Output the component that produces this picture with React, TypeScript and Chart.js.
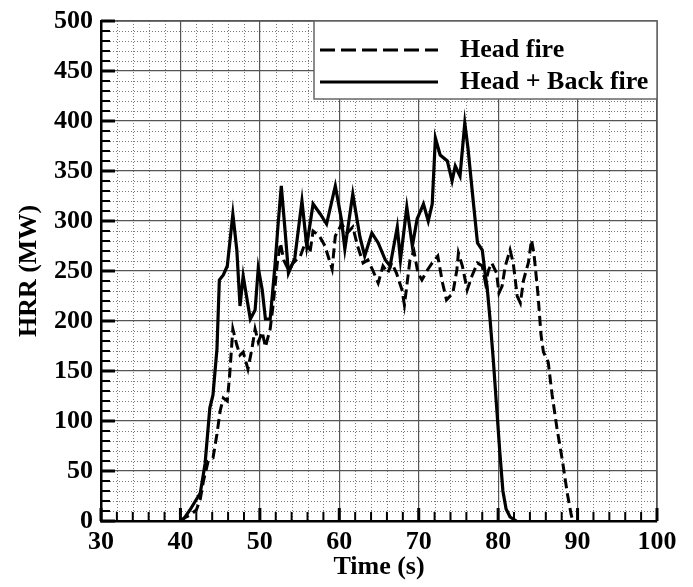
import React, { useEffect, useRef } from "react";
import { Chart, registerables } from "chart.js";
Chart.register(...registerables);

const FONT = '"Liberation Serif", "Times New Roman", serif';

const xMin = 30;
const xMax = 100;
const xStep = 10;
const yMin = 0;
const yMax = 500;
const yStep = 50;

const seriesLabels = ["Head fire", "Head + Back fire"];
const axisTitles = { x: "Time (s)", y: "HRR (MW)" };

// Head fire (dashed)
const timeHead = [
  40.0, 40.5, 41.2, 42.0, 42.5, 42.9, 43.5, 44.1, 44.6, 45.0, 45.4, 45.9, 46.2, 46.6, 47.1, 47.5, 47.9, 48.5,
  49.0, 49.4, 49.8, 50.3, 50.7, 51.3, 51.7, 52.2, 52.6, 53.0, 53.6, 54.2, 55.1, 55.8, 56.3, 56.7, 57.5, 58.2,
  58.7, 59.1, 59.5, 60.3, 61.0, 61.7, 62.3, 63.0, 63.6, 64.2, 64.9, 65.5, 66.1, 66.6, 67.2, 67.9, 68.2, 68.9,
  69.4, 69.9, 70.4, 71.1, 71.7, 72.4, 73.0, 73.5, 74.3, 74.8, 75.0, 75.5, 76.1, 76.7, 77.4, 78.0, 78.4, 78.8,
  79.2, 79.8, 80.1, 80.5, 80.9, 81.5, 81.9, 82.4, 82.8, 83.2, 83.8, 84.2, 84.5, 85.0, 85.4, 85.7, 86.3, 86.8,
  87.4, 88.1, 88.7, 89.2, 89.4,
];
const hrrHead = [
  0, 3, 6, 11, 22, 40, 60, 63, 87, 110, 123, 120, 146, 192, 176, 166, 169, 152,
  172, 192, 179, 189, 174, 192, 218, 258, 278, 261, 251, 258, 265, 280, 268, 290, 285, 275,
  262, 252, 285, 297, 288, 294, 275, 258, 261, 251, 238, 255, 248, 258, 248, 231, 216, 261,
  270, 248, 241, 251, 258, 265, 238, 221, 228, 251, 268, 255, 231, 245, 258, 255, 238, 251,
  258, 248, 228, 235, 255, 271, 258, 225, 218, 241, 258, 281, 268, 228, 186, 169, 159, 126,
  93, 60, 28, 6, 0,
];

// Head + Back fire (solid)
const timeBoth = [
  40.0, 40.5, 41.2, 42.5, 43.1, 43.7, 44.1, 44.6, 44.9, 45.4, 45.9, 46.6, 47.1, 47.5, 47.9, 48.4, 48.8, 49.4,
  49.8, 50.3, 50.7, 51.3, 51.9, 52.3, 52.7, 53.2, 53.6, 54.4, 55.3, 55.9, 56.7, 57.6, 58.4, 59.5, 60.3, 60.7,
  61.7, 62.6, 63.2, 64.1, 64.9, 65.8, 66.4, 67.3, 67.7, 68.5, 69.2, 69.8, 70.6, 71.2, 71.7, 72.1, 72.7, 73.6,
  74.2, 74.6, 75.2, 75.8, 76.2, 76.9, 77.4, 78.0, 78.4, 78.6, 79.0, 79.4, 79.8, 80.2, 80.6, 81.0, 81.5, 82.3,
];
const hrrBoth = [
  0, 3, 11, 28, 57, 113, 126, 172, 241, 246, 255, 307, 271, 215, 245, 221, 202, 211,
  253, 231, 202, 202, 255, 297, 335, 288, 248, 263, 320, 275, 317, 307, 297, 335, 300, 272,
  327, 284, 265, 288, 278, 261, 255, 294, 261, 314, 275, 302, 317, 300, 317, 383, 366, 360,
  340, 355, 345, 398, 373, 317, 278, 271, 245, 235, 200, 160, 115, 70, 30, 12, 4, 0,
];

const pts = (xs: number[], ys: number[]) => xs.map((t, i) => ({ x: t, y: ys[i] }));

const decor = {
  id: "decor",
  beforeDraw(chart: any) {
    const { ctx, chartArea: a, scales } = chart;
    const x = scales.x;
    const y = scales.y;
    ctx.save();
    ctx.fillStyle = "#ffffff";
    ctx.fillRect(0, 0, chart.width, chart.height);
    ctx.strokeStyle = "#7a7a7a";
    ctx.lineWidth = 1;
    ctx.setLineDash([1, 2]);
    for (let t = xMin + 2; t < xMax; t += 2) {
      if (t % xStep === 0) continue;
      const px = Math.round(x.getPixelForValue(t)) + 0.5;
      ctx.beginPath();
      ctx.moveTo(px, a.top);
      ctx.lineTo(px, a.bottom);
      ctx.stroke();
    }
    for (let v = yMin + 10; v < yMax; v += 10) {
      if (v % yStep === 0) continue;
      const py = Math.round(y.getPixelForValue(v)) + 0.5;
      ctx.beginPath();
      ctx.moveTo(a.left, py);
      ctx.lineTo(a.right, py);
      ctx.stroke();
    }
    ctx.restore();
  },
  afterDatasetsDraw(chart: any) {
    const { ctx, chartArea: a, scales } = chart;
    const x = scales.x;
    const y = scales.y;
    ctx.save();
    ctx.strokeStyle = "#555";
    ctx.lineWidth = 1.5;
    ctx.beginPath();
    ctx.moveTo(a.left, a.top);
    ctx.lineTo(a.right, a.top);
    ctx.lineTo(a.right, a.bottom);
    ctx.stroke();
    ctx.strokeStyle = "#000";
    for (let t = xMin; t <= xMax; t += 2) {
      const major = t % xStep === 0;
      const px = x.getPixelForValue(t);
      ctx.lineWidth = major ? 3 : 2;
      ctx.beginPath();
      ctx.moveTo(px, a.bottom);
      ctx.lineTo(px, a.bottom - (major ? 13 : 9));
      ctx.stroke();
    }
    for (let v = yMin; v <= yMax; v += 10) {
      const major = v % yStep === 0;
      const py = y.getPixelForValue(v);
      ctx.lineWidth = major ? 3 : 2;
      ctx.beginPath();
      ctx.moveTo(a.left, py);
      ctx.lineTo(a.left + (major ? 14 : 9), py);
      ctx.stroke();
    }
    ctx.restore();
  },
  afterDraw(chart: any) {
    const { ctx, chartArea: a } = chart;
    const bx = 314;
    const by = a.top;
    const bw = a.right - bx;
    const bh = 78;
    ctx.save();
    ctx.fillStyle = "#fff";
    ctx.fillRect(bx, by, bw, bh);
    ctx.strokeStyle = "#666";
    ctx.lineWidth = 1.5;
    ctx.strokeRect(bx, by, bw, bh);
    const rows = [by + 29, by + 61];
    chart.data.datasets.forEach((ds: any, i: number) => {
      const ry = rows[i];
      ctx.strokeStyle = "#000";
      ctx.lineWidth = 3;
      ctx.setLineDash(ds.borderDash && ds.borderDash.length ? [15, 6] : []);
      ctx.beginPath();
      ctx.moveTo(bx + 6, ry);
      ctx.lineTo(bx + 124, ry);
      ctx.stroke();
      ctx.setLineDash([]);
      ctx.fillStyle = "#000";
      ctx.font = `bold 26px ${FONT}`;
      ctx.textBaseline = "middle";
      ctx.textAlign = "left";
      ctx.fillText(ds.label, bx + 146, ry);
    });
    ctx.restore();
  },
};

export default function App() {
  const ref = useRef<HTMLCanvasElement | null>(null);
  useEffect(() => {
    if (!ref.current) return;
    const chart = new Chart(ref.current, {
      type: "line",
      data: {
        datasets: [
          {
            label: seriesLabels[0],
            data: pts(timeHead, hrrHead),
            borderColor: "#000",
            borderWidth: 3,
            borderDash: [10, 5],
            pointRadius: 0,
            tension: 0,
            fill: false,
          },
          {
            label: seriesLabels[1],
            data: pts(timeBoth, hrrBoth),
            borderColor: "#000",
            borderWidth: 3.2,
            borderDash: [],
            pointRadius: 0,
            tension: 0,
            fill: false,
          },
        ],
      },
      options: {
        responsive: false,
        animation: false,
        layout: { padding: { top: 15, right: 36, left: 0, bottom: 0 } },
        plugins: { legend: { display: false }, tooltip: { enabled: false } },
        scales: {
          x: {
            type: "linear",
            min: xMin,
            max: xMax,
            afterFit: (s: any) => {
              s.height = 66;
            },
            ticks: {
              stepSize: xStep,
              color: "#000",
              padding: 8,
              font: { family: FONT, size: 26, weight: "bold", lineHeight: 1 },
              maxRotation: 0,
            },
            grid: { color: "#555", lineWidth: 1.2, drawTicks: false },
            border: { color: "#000", width: 2.5 },
            title: {
              display: true,
              text: axisTitles.x,
              color: "#000",
              font: { family: FONT, size: 26, weight: "bold", lineHeight: 1.2 },
              padding: { top: 0, bottom: 4 },
            },
          },
          y: {
            type: "linear",
            min: yMin,
            max: yMax,
            afterFit: (s: any) => {
              s.width = 101;
            },
            ticks: {
              stepSize: yStep,
              color: "#000",
              padding: 8,
              font: { family: FONT, size: 26, weight: "bold", lineHeight: 1 },
            },
            grid: { color: "#555", lineWidth: 1.2, drawTicks: false },
            border: { color: "#000", width: 2.5 },
            title: {
              display: true,
              text: axisTitles.y,
              color: "#000",
              font: { family: FONT, size: 26, weight: "bold", lineHeight: 1.2 },
              padding: { top: 14, bottom: 0 },
            },
          },
        },
      } as any,
      plugins: [decor],
    });
    return () => chart.destroy();
  }, []);
  return (
    <div style={{ position: "absolute", left: 0, top: 0, width: 693, height: 587 }}>
      <canvas ref={ref} width={693} height={587} style={{ display: "block" }} />
    </div>
  );
}
